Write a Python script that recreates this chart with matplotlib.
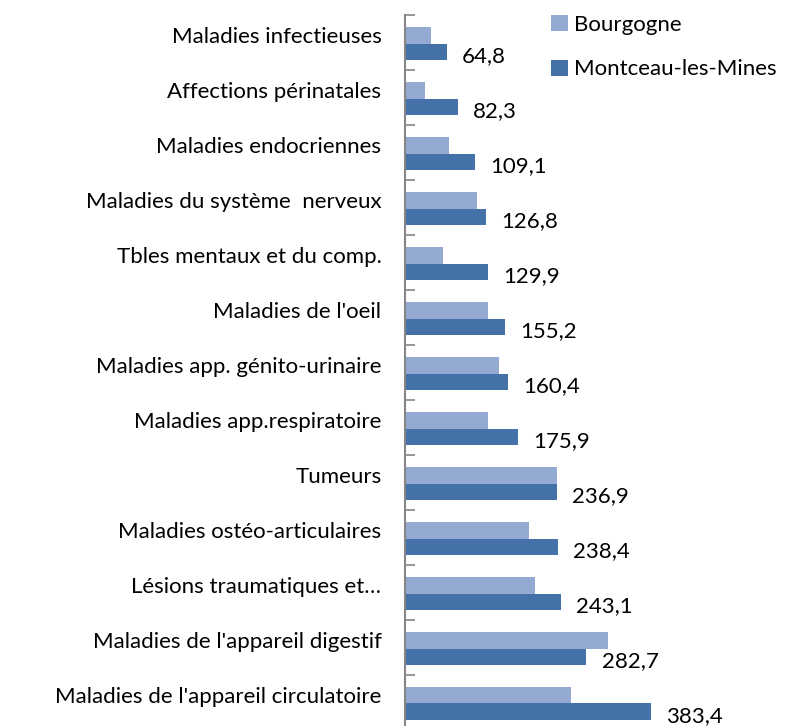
import numpy as np
import matplotlib
matplotlib.use('Agg')
import matplotlib.pyplot as plt
import matplotlib.transforms as mtransforms

# données (taux standardisés)
categories = ["Maladies infectieuses",
              "Affections périnatales",
              "Maladies endocriennes",
              "Maladies du système  nerveux",
              "Tbles mentaux et du comp.",
              "Maladies de l'oeil",
              "Maladies app. génito-urinaire",
              "Maladies app.respiratoire",
              "Tumeurs",
              "Maladies ostéo-articulaires",
              "Lésions traumatiques et…",
              "Maladies de l'appareil digestif",
              "Maladies de l'appareil circulatoire"]
bourgogne = [40, 31, 68, 112, 59, 130, 146, 130, 237, 193, 202, 317, 258]
montceau = [64.8, 82.3, 109.1, 126.8, 129.9, 155.2, 160.4, 175.9, 236.9, 238.4, 243.1, 282.7, 383.4]

c_bourg = '#95AAD2'
c_mont = '#4472A8'

plt.rcParams['font.family'] = ['Lato', 'DejaVu Sans']
fs = 16

fig = plt.figure(figsize=(7.98, 7.26), dpi=100)
ax = fig.add_axes([405/798, -3.6/726, 385/798, 714.6/726])

y = np.arange(len(categories))
h = 0.3
ax.barh(y - 0.125, bourgogne, height=h, color=c_bourg, label='Bourgogne')
ax.barh(y + 0.175, montceau, height=h, color=c_mont, label='Montceau-les-Mines')

for yi, v in zip(y, montceau):
    ax.annotate(f"{v:.1f}".replace('.', ','), (v, yi + 0.175), xytext=(11, -3),
                textcoords='offset points', va='center', ha='left', fontsize=fs)

ax.set_xlim(0, 600)
ax.set_ylim(len(categories) - 0.5, -0.5)
ax.set_yticks(y)
ax.set_yticklabels(categories, fontsize=fs)
ax.set_yticks(np.arange(len(categories) + 1) - 0.5, minor=True)
ax.tick_params(axis='y', which='major', length=0, pad=17)
ax.tick_params(axis='y', which='minor', length=7, width=1.2, direction='in', color='#868686')
# décaler les étiquettes un peu vers le haut
off = mtransforms.ScaledTranslation(0, 7/100, fig.dpi_scale_trans)
for lab in ax.get_yticklabels():
    lab.set_transform(lab.get_transform() + off)

ax.set_xticks([])
for s in ['top', 'right', 'bottom']:
    ax.spines[s].set_visible(False)
ax.spines['left'].set_color('#868686')
ax.spines['left'].set_linewidth(1.5)

ax.legend(loc='upper left', bbox_to_anchor=(137/385, 1.013), frameon=False,
          fontsize=fs, handlelength=0.75, handleheight=0.75, handletextpad=0.3,
          labelspacing=1.12, borderaxespad=0)

fig.savefig('out.png', dpi=100)
